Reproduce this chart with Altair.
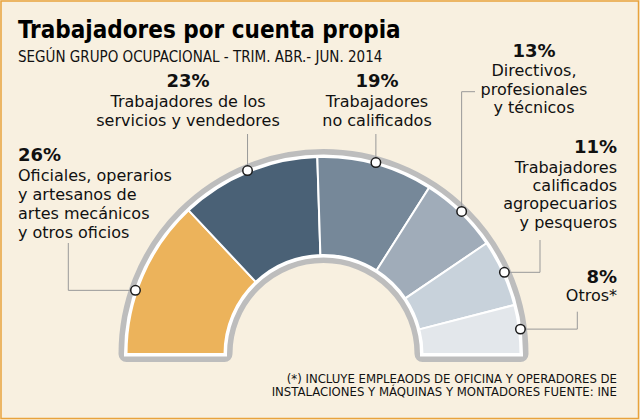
import math
import altair as alt
import pandas as pd

# ---------------- data ----------------
categories = [
    "Oficiales, operarios y artesanos de artes mecánicos y otros oficios",
    "Trabajadores de los servicios y vendedores",
    "Trabajadores no calificados",
    "Directivos, profesionales y técnicos",
    "Trabajadores calificados agropecuarios y pesqueros",
    "Otros*",
]
values = [26, 23, 19, 13, 11, 8]
label_lines = [
    ["Oficiales, operarios", "y artesanos de", "artes mecánicos", "y otros oficios"],
    ["Trabajadores de los", "servicios y vendedores"],
    ["Trabajadores", "no calificados"],
    ["Directivos,", "profesionales", "y técnicos"],
    ["Trabajadores", "calificados", "agropecuarios", "y pesqueros"],
    ["Otros*"],
]
colors = ["#ECB35B", "#4A6176", "#768899", "#A0ACB9", "#C8D2DB", "#E3E7EB"]

title_text = "Trabajadores por cuenta propia"
subtitle_text = "SEGÚN GRUPO OCUPACIONAL - TRIM. ABR.- JUN. 2014"
footnote_lines = [
    "(*) INCLUYE EMPLEAODS DE OFICINA Y OPERADORES DE",
    "INSTALACIONES Y MÁQUINAS Y MONTADORES FUENTE: INE",
]

# ---------------- layout / style ----------------
BG = "#F8F0E0"
GREY = "#BDBDBD"
BORDER = "#E8A33D"
LEADER = "#999999"
CX, CY = 323.5, 354
R_OUT, R_IN, R_DOT = 197, 99, 198.5
A0, A1 = 1.5 * math.pi, 2.5 * math.pi
LABEL_FONT = "DejaVu Sans"
COND_FONT = "DejaVu Sans Condensed, DejaVu Sans"

# per-label annotation layout: text anchor x, first baseline y, line step, align,
# dot angle shift (deg), leader elbows
label_layout = [
    dict(x=18, y=160.7, step=19.2, align="left", shift=-4.7, elbows=lambda dx, dy: [(68.3, dy), (68.3, 243)]),
    dict(x=188, y=87.3, step=19.0, align="center", shift=0, elbows=lambda dx, dy: [(dx, 134)]),
    dict(x=377, y=86.7, step=19.0, align="center", shift=0, elbows=lambda dx, dy: [(dx, 134)]),
    dict(x=534, y=57.3, step=18.2, align="center", shift=0, elbows=lambda dx, dy: [(dx, 91.7), (475, 91.7)]),
    dict(x=617, y=153.3, step=18.4, align="right", shift=0, elbows=lambda dx, dy: [(540, dy), (540, 240)]),
    dict(x=617, y=283.3, step=17.0, align="right", shift=0, elbows=lambda dx, dy: [(577.3, dy), (577.3, 311.7)]),
]

# ---------------- derived tables ----------------
seg = pd.DataFrame({"cat": categories, "value": values, "order": list(range(len(values)))})

total = sum(values)
dots, leaders, texts = [], [], []
cum = 0
for i, v in enumerate(values):
    lay = label_layout[i]
    frac = (cum + v / 2) / total
    cum += v
    ang = A0 + frac * (A1 - A0) + math.radians(lay["shift"])
    dx = CX + R_DOT * math.sin(ang)
    dy = CY - R_DOT * math.cos(ang)
    dots.append({"px": dx, "py": dy})
    pts = [(dx, dy)] + lay["elbows"](dx, dy)
    for k, (lx, ly) in enumerate(pts):
        leaders.append({"g": i, "k": k, "px": lx, "py": ly})
    texts.append({"t": f"{v}%", "px": lay["x"], "py": lay["y"], "align": lay["align"], "bold": 1})
    for j, line in enumerate(label_lines[i]):
        texts.append({"t": line, "px": lay["x"], "py": lay["y"] + lay["step"] * 1.05 + lay["step"] * j,
                      "align": lay["align"], "bold": 0})

dots = pd.DataFrame(dots)
leaders = pd.DataFrame(leaders)
texts = pd.DataFrame(texts)
one = pd.DataFrame({"a": [0]})

X = lambda f: alt.X(f, scale=None, axis=None)
Y = lambda f: alt.Y(f, scale=None, axis=None)

# ---------------- layers ----------------
border = alt.Chart(one).mark_rect(fill=None, stroke=BORDER, strokeWidth=1.5).encode(
    x=alt.value(1), x2=alt.value(638.5), y=alt.value(1), y2=alt.value(418.5))

ring_grey = alt.Chart(one).mark_arc(
    theta=A0, theta2=A1, radius=R_OUT, radius2=R_IN, fill=GREY, stroke=GREY,
    strokeWidth=16, strokeJoin="round").encode(x=alt.value(CX), y=alt.value(CY))
ring_white = alt.Chart(one).mark_arc(
    theta=A0, theta2=A1, radius=R_OUT, radius2=R_IN, fill="white", stroke="white",
    strokeWidth=5, strokeJoin="miter").encode(x=alt.value(CX), y=alt.value(CY))

arcs = alt.Chart(seg).mark_arc(radius=R_OUT, radius2=R_IN, stroke="white", strokeWidth=2).encode(
    theta=alt.Theta("value:Q", stack=True, scale=alt.Scale(domain=[0, total], range=[A0, A1])),
    color=alt.Color("cat:N", scale=alt.Scale(domain=categories, range=colors), legend=None),
    order=alt.Order("order:Q"),
    x=alt.value(CX), y=alt.value(CY),
)

lead = alt.Chart(leaders).mark_line(color=LEADER, strokeWidth=1).encode(
    x=X("px:Q"), y=Y("py:Q"), detail="g:N", order="k:Q")

dot = alt.Chart(dots).mark_point(shape="circle", size=90, filled=True, fill="white",
                                 stroke="#1a1a1a", strokeWidth=1.5, opacity=1).encode(
    x=X("px:Q"), y=Y("py:Q"))

text_layers = []
for al in ["left", "center", "right"]:
    for b in [1, 0]:
        sub = texts[(texts["align"] == al) & (texts["bold"] == b)]
        if len(sub) == 0:
            continue
        text_layers.append(
            alt.Chart(sub).mark_text(
                align=al, baseline="alphabetic", font=LABEL_FONT,
                fontSize=18 if b else 16, fontWeight="bold" if b else "normal", color="#111111",
            ).encode(x=X("px:Q"), y=Y("py:Q"), text="t:N")
        )

title = alt.Chart(pd.DataFrame({"t": [title_text]})).mark_text(
    align="left", baseline="alphabetic", font=COND_FONT, fontSize=24, fontWeight="bold", color="#000000"
).encode(x=alt.value(18), y=alt.value(37.5), text="t:N")

subtitle = alt.Chart(pd.DataFrame({"t": [subtitle_text]})).mark_text(
    align="left", baseline="alphabetic", font=COND_FONT, fontSize=15, color="#111111"
).encode(x=alt.value(18), y=alt.value(61.7), text="t:N")

foot = alt.Chart(pd.DataFrame({"t": footnote_lines, "py": [382.5, 396]})).mark_text(
    align="right", baseline="alphabetic", font=COND_FONT, fontSize=13, color="#111111"
).encode(x=alt.value(617), y=Y("py:Q"), text="t:N")

chart = alt.layer(
    border, ring_grey, ring_white, arcs, lead, dot, *text_layers, title, subtitle, foot
).properties(
    width=640, height=420, autosize="none", padding=0, background=BG
).configure_view(stroke=None)

chart.save("out.html", embed_options={"renderer": "svg", "actions": False})
